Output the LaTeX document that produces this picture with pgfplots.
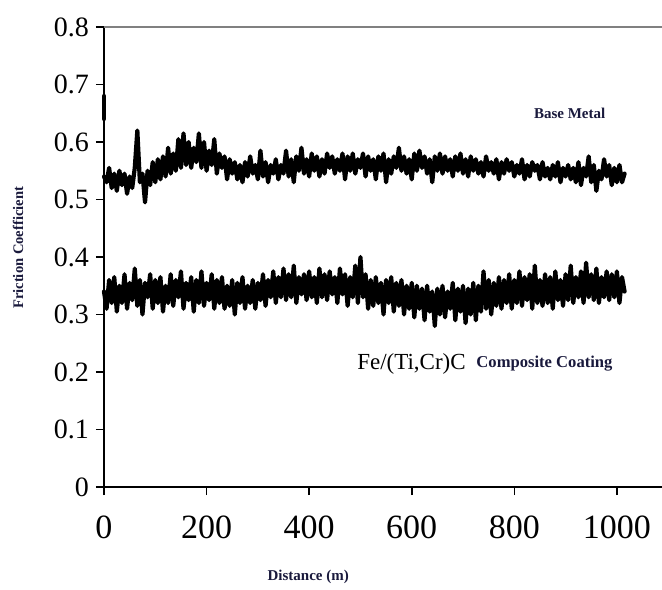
\documentclass[border=0pt]{standalone}
\usepackage{fontspec}
\setmainfont{Liberation Serif}
\usepackage{pgfplots}
\pgfplotsset{compat=1.18}
\definecolor{lab}{RGB}{25,25,60}
\pgfplotsset{curve/.style={black, no marks, line width=2.1pt, line join=round, line cap=round}}

\begin{document}
\begin{tikzpicture}
\useasboundingbox (-52pt,-51pt) rectangle (279pt,243.5pt);
\begin{axis}[
    scale only axis,
    width=279pt, height=230pt,
    xmin=0, xmax=1088,
    ymin=0, ymax=0.8,
    axis lines=left,
    axis line style={-, line width=0.9pt},
    xtick={0,200,400,600,800,1000},
    ytick={0,0.1,0.2,0.3,0.4,0.5,0.6,0.7,0.8},
    tick align=outside,
    tick style={black, line width=0.8pt},
    major tick length=4pt,
    clip=false,
    /pgf/number format/assume math mode=true,
    xticklabel style={font=\fontsize{17}{17}\selectfont, yshift=-7pt,
        /pgf/number format/1000 sep={}},
    yticklabel style={font=\fontsize{14}{14}\selectfont,
        /pgf/number format/fixed, /pgf/number format/precision=1},
    xlabel={\textbf{Distance (m)}},
    xlabel style={font=\fontsize{7.5}{8}\selectfont, color=lab, anchor=center,
        at={(axis description cs:0.366,-0.196)}},
    ylabel={\textbf{Friction Coefficient}},
    ylabel style={font=\fontsize{7.3}{8}\selectfont, color=lab, anchor=center,
        rotate=0, at={(axis description cs:-0.154,0.52)}},
]

% initial spike at start
\addplot[curve] coordinates {(0,0.68)(0,0.64)};

% Base Metal
\addplot[curve] coordinates {
(0,0.54)(5,0.53)(10,0.555)(15,0.52)(20,0.545)(25,0.515)(30,0.55)(35,0.525)(40,0.545)(45,0.51)
(50,0.54)(55,0.52)(60,0.555)(65,0.62)(70,0.53)(75,0.545)(80,0.495)(85,0.55)(90,0.525)(95,0.565)
(100,0.53)(105,0.57)(110,0.535)(115,0.575)(120,0.54)(125,0.59)(130,0.545)(135,0.58)(140,0.55)(145,0.605)
(150,0.555)(155,0.615)(160,0.56)(165,0.6)(170,0.555)(175,0.59)(180,0.565)(185,0.615)(190,0.555)(195,0.6)
(200,0.55)(205,0.585)(210,0.56)(215,0.605)(220,0.545)(225,0.58)(230,0.555)(235,0.575)(240,0.535)(245,0.57)
(250,0.545)(255,0.565)(260,0.535)(265,0.56)(270,0.53)(275,0.565)(280,0.54)(285,0.575)(290,0.545)(295,0.56)
(300,0.535)(305,0.585)(310,0.54)(315,0.565)(320,0.53)(325,0.56)(330,0.545)(335,0.57)(340,0.535)(345,0.56)
(350,0.545)(355,0.585)(360,0.54)(365,0.57)(370,0.53)(375,0.575)(380,0.55)(385,0.59)(390,0.545)(395,0.57)
(400,0.54)(405,0.58)(410,0.55)(415,0.575)(420,0.54)(425,0.57)(430,0.545)(435,0.58)(440,0.555)(445,0.575)
(450,0.545)(455,0.57)(460,0.55)(465,0.58)(470,0.535)(475,0.575)(480,0.55)(485,0.58)(490,0.545)(495,0.57)
(500,0.555)(505,0.58)(510,0.54)(515,0.575)(520,0.55)(525,0.57)(530,0.535)(535,0.575)(540,0.55)(545,0.58)
(550,0.53)(555,0.57)(560,0.545)(565,0.575)(570,0.555)(575,0.59)(580,0.55)(585,0.575)(590,0.545)(595,0.57)
(600,0.535)(605,0.58)(610,0.55)(615,0.585)(620,0.555)(625,0.575)(630,0.545)(635,0.57)(640,0.53)(645,0.575)
(650,0.55)(655,0.58)(660,0.545)(665,0.575)(670,0.55)(675,0.57)(680,0.54)(685,0.575)(690,0.55)(695,0.58)
(700,0.545)(705,0.57)(710,0.54)(715,0.575)(720,0.55)(725,0.57)(730,0.545)(735,0.565)(740,0.54)(745,0.575)
(750,0.55)(755,0.565)(760,0.545)(765,0.57)(770,0.535)(775,0.565)(780,0.545)(785,0.57)(790,0.55)(795,0.565)
(800,0.54)(805,0.56)(810,0.545)(815,0.57)(820,0.535)(825,0.56)(830,0.54)(835,0.565)(840,0.55)(845,0.56)
(850,0.535)(855,0.565)(860,0.54)(865,0.555)(870,0.535)(875,0.56)(880,0.54)(885,0.565)(890,0.53)(895,0.555)
(900,0.54)(905,0.56)(910,0.535)(915,0.555)(920,0.53)(925,0.565)(930,0.525)(935,0.555)(940,0.54)(945,0.575)
(950,0.53)(955,0.56)(960,0.515)(965,0.55)(970,0.535)(975,0.57)(980,0.54)(985,0.56)(990,0.525)(995,0.555)
(1000,0.53)(1005,0.56)(1010,0.53)(1015,0.545)
};

% Fe/(Ti,Cr)C composite coating
\addplot[curve] coordinates {
(0,0.34)(5,0.31)(10,0.36)(15,0.32)(20,0.365)(25,0.305)(30,0.35)(35,0.32)(40,0.37)(45,0.31)
(50,0.355)(55,0.325)(60,0.38)(65,0.315)(70,0.36)(75,0.3)(80,0.355)(85,0.33)(90,0.37)(95,0.31)
(100,0.36)(105,0.32)(110,0.365)(115,0.305)(120,0.35)(125,0.32)(130,0.37)(135,0.315)(140,0.36)(145,0.33)
(150,0.375)(155,0.31)(160,0.355)(165,0.325)(170,0.365)(175,0.305)(180,0.36)(185,0.32)(190,0.375)(195,0.315)
(200,0.355)(205,0.325)(210,0.37)(215,0.31)(220,0.36)(225,0.32)(230,0.365)(235,0.31)(240,0.35)(245,0.315)
(250,0.36)(255,0.3)(260,0.355)(265,0.32)(270,0.365)(275,0.31)(280,0.35)(285,0.32)(290,0.36)(295,0.31)
(300,0.355)(305,0.325)(310,0.37)(315,0.315)(320,0.36)(325,0.33)(330,0.375)(335,0.32)(340,0.365)(345,0.33)
(350,0.38)(355,0.325)(360,0.37)(365,0.33)(370,0.385)(375,0.32)(380,0.365)(385,0.335)(390,0.37)(395,0.325)
(400,0.375)(405,0.33)(410,0.365)(415,0.32)(420,0.38)(425,0.33)(430,0.37)(435,0.325)(440,0.375)(445,0.335)
(450,0.365)(455,0.32)(460,0.38)(465,0.335)(470,0.37)(475,0.315)(480,0.365)(485,0.33)(490,0.385)(495,0.32)
(500,0.4)(505,0.33)(510,0.37)(515,0.31)(520,0.36)(525,0.315)(530,0.365)(535,0.32)(540,0.355)(545,0.3)
(550,0.36)(555,0.32)(560,0.365)(565,0.305)(570,0.355)(575,0.315)(580,0.36)(585,0.3)(590,0.35)(595,0.31)
(600,0.355)(605,0.295)(610,0.35)(615,0.31)(620,0.345)(625,0.29)(630,0.35)(635,0.305)(640,0.34)(645,0.28)
(650,0.345)(655,0.3)(660,0.35)(665,0.295)(670,0.34)(675,0.31)(680,0.355)(685,0.29)(690,0.345)(695,0.305)
(700,0.35)(705,0.285)(710,0.345)(715,0.3)(720,0.355)(725,0.29)(730,0.35)(735,0.305)(740,0.375)(745,0.31)
(750,0.36)(755,0.3)(760,0.355)(765,0.315)(770,0.365)(775,0.31)(780,0.36)(785,0.32)(790,0.37)(795,0.31)
(800,0.36)(805,0.32)(810,0.375)(815,0.315)(820,0.365)(825,0.325)(830,0.37)(835,0.31)(840,0.385)(845,0.32)
(850,0.36)(855,0.315)(860,0.37)(865,0.32)(870,0.365)(875,0.31)(880,0.375)(885,0.325)(890,0.36)(895,0.315)
(900,0.37)(905,0.325)(910,0.385)(915,0.32)(920,0.365)(925,0.33)(930,0.375)(935,0.32)(940,0.39)(945,0.33)
(950,0.37)(955,0.325)(960,0.38)(965,0.32)(970,0.365)(975,0.33)(980,0.375)(985,0.325)(990,0.37)(995,0.33)
(1000,0.375)(1005,0.32)(1010,0.365)(1015,0.34)
};

% top frame line (no right line in the original)
\draw[gray, line width=1.2pt] (rel axis cs:0,1) -- (rel axis cs:1,1);

\node[font=\fontsize{7.5}{8}\selectfont\bfseries, color=lab] at (axis cs:908,0.649) {Base Metal};
\node[font=\fontsize{11.5}{12}\selectfont, anchor=west, inner sep=0pt] (fe) at (axis cs:493,0.214) {Fe/(Ti,Cr)C};
\node[font=\fontsize{8.3}{9}\selectfont\bfseries, color=lab, anchor=west, inner sep=0pt] at ([xshift=5pt]fe.east) {Composite Coating};
\end{axis}
\end{tikzpicture}
\end{document}
